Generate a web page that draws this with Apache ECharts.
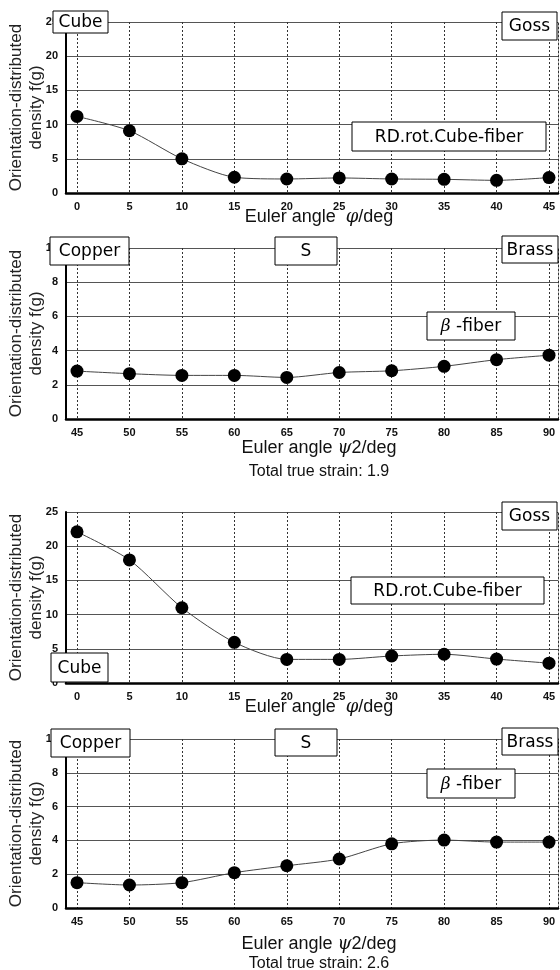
<!DOCTYPE html>
<html>
<head>
<meta charset="utf-8">
<script src="https://cdn.jsdelivr.net/npm/echarts@6/dist/echarts.min.js"></script>
<style>
html,body{margin:0;padding:0;background:#fff;}
#chart{width:560px;height:970px;}
</style>
</head>
<body>
<div id="chart"></div>
<script>
// ---- data ----
const phiAngles = [0, 5, 10, 15, 20, 25, 30, 35, 40, 45];
const psi2Angles = [45, 50, 55, 60, 65, 70, 75, 80, 85, 90];
const cubeFiberStrain19 = [11.2, 9.1, 5.0, 2.3, 2.05, 2.2, 2.05, 2.0, 1.85, 2.25];
const betaFiberStrain19 = [2.8, 2.65, 2.55, 2.55, 2.43, 2.72, 2.82, 3.08, 3.47, 3.73];
const cubeFiberStrain26 = [22.1, 18.0, 11.0, 5.95, 3.45, 3.45, 3.95, 4.2, 3.5, 2.9];
const betaFiberStrain26 = [1.5, 1.36, 1.5, 2.09, 2.5, 2.9, 3.8, 4.02, 3.9, 3.9];
const cubeYTicks = [0, 5, 10, 15, 20, 25];
const betaYTicks = [0, 2, 4, 6, 8, 10];
const yAxisName = 'Orientation-distributed\ndensity f(g)';
const strainLabels = ['Total true strain: 1.9', 'Total true strain: 2.6'];

// ---- layout ----
const panels = [
  {top: 22, height: 171, x: phiAngles, y: cubeFiberStrain19, ticks: cubeYTicks, xmin: 0, xmax: 45,
   name: 'Euler angle  {i|φ}/deg', nameGap: 14, lh: 20},
  {top: 248, height: 171, x: psi2Angles, y: betaFiberStrain19, ticks: betaYTicks, xmin: 45, xmax: 90,
   name: 'Euler angle {i|ψ}2/deg\n{s|' + strainLabels[0] + '}', nameGap: 17, lh: 24},
  {top: 512, height: 171, x: phiAngles, y: cubeFiberStrain26, ticks: cubeYTicks, xmin: 0, xmax: 45,
   name: 'Euler angle  {i|φ}/deg', nameGap: 14, lh: 20},
  {top: 739, height: 169, x: psi2Angles, y: betaFiberStrain26, ticks: betaYTicks, xmin: 45, xmax: 90,
   name: 'Euler angle {i|ψ}2/deg\n{s|' + strainLabels[1] + '}', nameGap: 26, lh: 20}
];

const boxes = [
  {t: 'Cube', x1: 53, y1: 11, x2: 108, y2: 33},
  {t: 'Goss', x1: 502, y1: 12, x2: 557, y2: 40},
  {t: 'RD.rot.Cube-fiber', x1: 352, y1: 122, x2: 546, y2: 151},
  {t: 'Copper', x1: 50, y1: 237, x2: 129, y2: 265},
  {t: 'S', x1: 275, y1: 237, x2: 337, y2: 265},
  {t: 'Brass', x1: 502, y1: 236, x2: 558, y2: 263},
  {t: '{i|β} -fiber', x1: 427, y1: 312, x2: 515, y2: 340},
  {t: 'Cube', x1: 51, y1: 653, x2: 108, y2: 682},
  {t: 'Goss', x1: 502, y1: 502, x2: 557, y2: 530},
  {t: 'RD.rot.Cube-fiber', x1: 351, y1: 577, x2: 544, y2: 604},
  {t: 'Copper', x1: 51, y1: 729, x2: 130, y2: 757},
  {t: 'S', x1: 275, y1: 729, x2: 337, y2: 756},
  {t: 'Brass', x1: 502, y1: 728, x2: 558, y2: 755},
  {t: '{i|β} -fiber', x1: 427, y1: 769, x2: 515, y2: 798}
];

const grid = [], xAxis = [], yAxis = [], series = [];
panels.forEach((p, i) => {
  const ymax = p.ticks[p.ticks.length - 1];
  const yint = p.ticks[1] - p.ticks[0];
  grid.push({left: 66, width: 492, top: p.top, height: p.height, outerBoundsMode: 'none', containLabel: false});
  grid.push({left: 77, width: 472, top: p.top, height: p.height, outerBoundsMode: 'none', containLabel: false});
  // frame x axis (title + thick baseline)
  xAxis.push({
    gridIndex: 2 * i, type: 'value', min: 0, max: 1,
    axisLine: {show: true, onZero: false, lineStyle: {color: '#000', width: 2.5}},
    axisTick: {show: false}, axisLabel: {show: false}, splitLine: {show: false},
    name: p.name, nameLocation: 'middle', nameGap: p.nameGap, nameMoveOverlap: false,
    nameTextStyle: {
      fontFamily: 'Liberation Sans, Arial, sans-serif', fontSize: 18, color: '#111', lineHeight: p.lh,
      padding: [0, 0, 0, 14],
      rich: {
        i: {fontFamily: 'DejaVu Serif, serif', fontStyle: 'italic', fontSize: 18, lineHeight: p.lh, color: '#111'},
        s: {fontFamily: 'Liberation Sans, Arial, sans-serif', fontSize: 16, lineHeight: p.lh, color: '#111'}
      }
    }
  });
  // data x axis
  xAxis.push({
    gridIndex: 2 * i + 1, type: 'value', min: p.xmin, max: p.xmax, interval: 5,
    axisLine: {show: false}, axisTick: {show: false},
    axisLabel: {fontFamily: 'Liberation Sans, Arial, sans-serif', fontSize: 11, fontWeight: 'bold', color: '#111', margin: 8},
    splitLine: {show: true, lineStyle: {color: '#333', width: 1, type: [2, 2]}}
  });
  // frame y axis (left)
  yAxis.push({
    gridIndex: 2 * i, type: 'value', min: 0, max: ymax, interval: yint,
    axisLine: {show: true, onZero: false, lineStyle: {color: '#000', width: 2}},
    axisTick: {show: false},
    axisLabel: {fontFamily: 'Liberation Sans, Arial, sans-serif', fontSize: 11, fontWeight: 'bold', color: '#111', margin: 8},
    splitLine: {show: true, lineStyle: {color: '#555', width: 1}},
    name: yAxisName, nameLocation: 'middle', nameRotate: 90, nameGap: 20, nameMoveOverlap: false,
    nameTextStyle: {fontFamily: 'Liberation Sans, Arial, sans-serif', fontSize: 17, color: '#222', lineHeight: 20}
  });
  // frame right border
  yAxis.push({
    gridIndex: 2 * i, type: 'value', position: 'right', min: 0, max: ymax,
    axisLine: {show: true, onZero: false, lineStyle: {color: '#333', width: 1, type: [2, 2]}},
    axisTick: {show: false}, axisLabel: {show: false}, splitLine: {show: false}
  });
  // data y axis
  yAxis.push({gridIndex: 2 * i + 1, type: 'value', min: 0, max: ymax, show: false, splitLine: {show: false}});
  series.push({
    type: 'line', xAxisIndex: 2 * i + 1, yAxisIndex: 3 * i + 2,
    data: p.x.map((v, k) => [v, p.y[k]]),
    smooth: 0.25, symbol: 'circle', symbolSize: 13,
    itemStyle: {color: '#000'},
    lineStyle: {color: '#444', width: 1},
    z: 5
  });
});

const graphic = [];
boxes.forEach(b => {
  graphic.push({
    type: 'rect', z: 100, zlevel: 1,
    shape: {x: b.x1, y: b.y1, width: b.x2 - b.x1, height: b.y2 - b.y1},
    style: {fill: '#fff', stroke: '#000', lineWidth: 1}
  });
  graphic.push({
    type: 'text', z: 101, zlevel: 1,
    x: (b.x1 + b.x2) / 2, y: (b.y1 + b.y2) / 2 + 1,
    style: {text: b.t, font: '17px "DejaVu Sans", sans-serif', fill: '#000',
            textAlign: 'center', textVerticalAlign: 'middle',
            rich: {i: {fontStyle: 'italic', fontFamily: 'DejaVu Serif', fontSize: 17}}}
  });
});

const chart = echarts.init(document.getElementById('chart'), null, {renderer: 'canvas'});
chart.setOption({
  animation: false,
  backgroundColor: '#fff',
  grid, xAxis, yAxis, series, graphic
});
</script>
</body>
</html>
